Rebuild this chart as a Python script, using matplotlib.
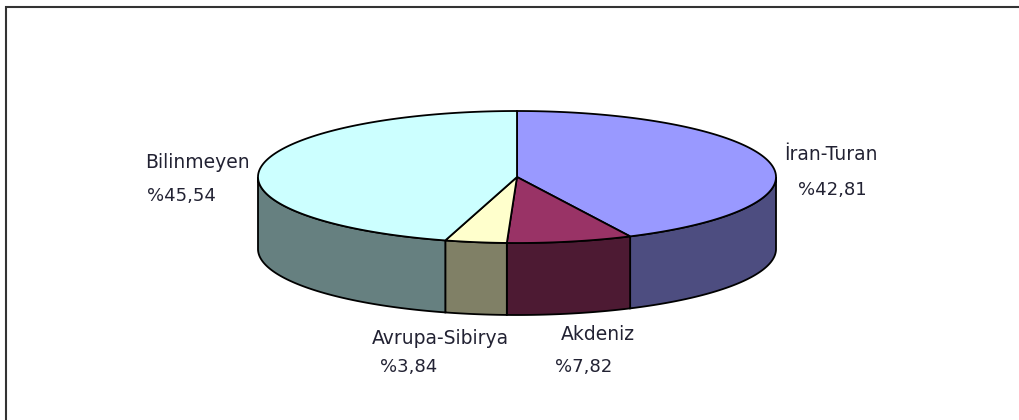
import numpy as np
import matplotlib
matplotlib.use('Agg')
import matplotlib.pyplot as plt
from matplotlib.patches import Polygon, Rectangle

labels = ['İran-Turan', 'Akdeniz', 'Avrupa-Sibirya', 'Bilinmeyen']
values = [42.81, 7.82, 3.84, 45.54]
value_labels = ['%42,81', '%7,82', '%3,84', '%45,54']
top_colors = ['#9999ff', '#993366', '#ffffcc', '#ccffff']
side_colors = ['#4d4d80', '#4d1a33', '#808066', '#668080']

cx, cy, rx, ry, depth = 517, 177, 259, 66, 72
name_pos = [(831, 155), (598, 335), (440, 338), (197, 163)]
val_pos = [(832, 190), (584, 367), (409, 367), (181, 196)]

plt.rcParams['font.family'] = ['DejaVu Sans']


def rim(a, b):
    t = np.linspace(a, b, 200)
    return cx + rx * np.sin(t), cy - ry * np.cos(t)


fig = plt.figure(figsize=(10.2, 4.2), dpi=100)
ax = fig.add_axes([0, 0, 1, 1])
ax.set_xlim(0, 1020)
ax.set_ylim(420, 0)
ax.axis('off')
ax.add_patch(Rectangle((6, 6.5), 1030, 500, fc='white', ec='#333333', lw=1.5))

edges = np.concatenate([[0], np.cumsum(values)]) / sum(values) * 2 * np.pi

# side walls, only the front half of the ellipse shows
for i in range(len(values)):
    a, b = max(edges[i], np.pi / 2), min(edges[i + 1], 3 * np.pi / 2)
    if a >= b:
        continue
    x, y = rim(a, b)
    pts = np.column_stack([np.r_[x, x[::-1]], np.r_[y, y[::-1] + depth]])
    ax.add_patch(Polygon(pts, fc=side_colors[i], ec='black', lw=1.3))

# top face
for i in range(len(values)):
    x, y = rim(edges[i], edges[i + 1])
    pts = np.column_stack([np.r_[cx, x], np.r_[cy, y]])
    ax.add_patch(Polygon(pts, fc=top_colors[i], ec='black', lw=1.3))

for i in range(len(labels)):
    ax.text(*name_pos[i], labels[i], fontsize=13.5, ha='center', va='center', color='#222233')
    ax.text(*val_pos[i], value_labels[i], fontsize=13, ha='center', va='center', color='#222233')

fig.savefig('out.png', dpi=100)
